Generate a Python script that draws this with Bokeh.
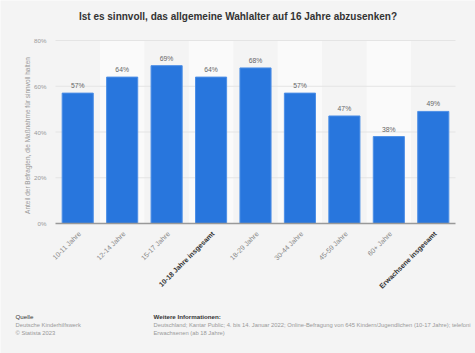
from bokeh.plotting import figure
from bokeh.models import ColumnDataSource, Range1d
from bokeh.core.properties import value
from bokeh.embed import file_html
from bokeh.resources import INLINE
import math

categories = ["10-11 Jahre", "12-14 Jahre", "15-17 Jahre", "10-18 Jahre insgesamt",
              "18-29 Jahre", "30-44 Jahre", "45-59 Jahre", "60+ Jahre", "Erwachsene insgesamt"]
values = [57, 64, 69, 64, 68, 57, 47, 38, 49]
bold_flags = [False, False, False, True, False, False, False, False, True]
y_ticks = [0, 20, 40, 60, 80]
y_tick_labels = ["0%", "20%", "40%", "60%", "80%"]

title_text = "Ist es sinnvoll, das allgemeine Wahlalter auf 16 Jahre abzusenken?"
y_label = "Anteil der Befragten, die Maßnahme für sinnvoll halten"
source_title = "Quelle"
source_lines = ["Deutsche Kinderhilfswerk", "© Statista 2023"]
info_title = "Weitere Informationen:"
info_lines = ["Deutschland; Kantar Public; 4. bis 14. Januar 2022; Online-Befragung von 645 Kindern/Jugendlichen (10-17 Jahre); telefoni",
              "Erwachsenen (ab 18 Jahre)"]

FONT = "Liberation Sans"
BG = "#f4f4f4"
W, H = 475, 353
# plot area in page pixels
LEFT, RIGHT, TOP, BOTTOM = 55, 455, 40, 223
YMAX = 80
n = len(categories)
cw = (RIGHT - LEFT) / n           # pixels per category
k = (BOTTOM - TOP) / YMAX          # pixels per percent

x_range = Range1d(-0.5 - LEFT / cw, -0.5 + (W - LEFT) / cw)
y_range = Range1d(-(H - BOTTOM) / k, YMAX + TOP / k)

def px_x(px):
    return -0.5 + (px - LEFT) / cw

def px_y(py):
    return (BOTTOM - py) / k

p = figure(width=W, height=H, output_backend="svg", toolbar_location=None,
           x_range=x_range, y_range=y_range, min_border=0)
p.background_fill_color = BG
p.border_fill_color = BG
p.outline_line_color = None
p.axis.visible = False
p.grid.visible = False

idx = list(range(n))

# alternating column bands
odd = [i for i in idx if i % 2 == 1]
p.vbar(x=odd, top=[YMAX] * len(odd), bottom=0, width=1.0, fill_color="#fafafa", line_color=None)

# grid lines
gt = [t for t in y_ticks if t > 0]
p.segment(x0=[-0.5] * len(gt), x1=[n - 0.5] * len(gt), y0=gt, y1=gt, line_color="#e4e4e4", line_width=1)

src = ColumnDataSource(dict(
    x=idx, top=values, cat=categories,
    lbl=[f"{v}%" for v in values],
    style=["bold" if b else "normal" for b in bold_flags],
    color=["#333333" if b else "#888888" for b in bold_flags],
))
p.vbar(x="x", top="top", width=0.7, source=src, fill_color="#2876dd", line_color="#4d8fe6", line_width=1)

# baseline
p.segment(x0=[-0.5], x1=[n - 0.5], y0=[0], y1=[0], line_color="#999999", line_width=1.5)

# value labels
p.text(x="x", y="top", text="lbl", source=src, y_offset=-4, text_align="center",
       text_baseline="bottom", text_font=value(FONT), text_font_size="6.8px", text_color="#666666")

# category labels
p.text(x="x", y=0, text="cat", source=src, y_offset=9, x_offset=2, angle=math.pi / 4,
       text_align="right", text_baseline="middle", text_font=value(FONT), text_font_size="7px",
       text_color="color", text_font_style="style")

# y tick labels
p.text(x=[px_x(LEFT - 9)] * len(y_ticks), y=y_ticks, text=y_tick_labels, text_align="right",
       text_baseline="middle", text_font=value(FONT), text_font_size="6.2px", text_color="#999999")

# y axis label
p.text(x=[px_x(27)], y=[px_y(135)], text=[y_label], angle=math.pi / 2,
       text_align="center", text_baseline="middle", text_font=value(FONT), text_font_size="6.5px",
       text_color="#999999")

# title
p.text(x=[px_x(W / 2)], y=[px_y(16)], text=[title_text], text_align="center", text_baseline="middle",
       text_font=value(FONT), text_font_size="10px", text_font_style="bold", text_color="#333333")

# footer
p.text(x=[px_x(15)], y=[px_y(316)], text=[source_title], text_baseline="middle",
       text_font=value(FONT), text_font_size="6.2px", text_color="#333333")
p.text(x=[px_x(15)] * 2, y=[px_y(324), px_y(332)], text=source_lines, text_baseline="middle",
       text_font=value(FONT), text_font_size="5.8px", text_color="#999999")
p.text(x=[px_x(153)], y=[px_y(316)], text=[info_title], text_baseline="middle",
       text_font=value(FONT), text_font_size="6.2px", text_font_style="bold", text_color="#333333")
p.text(x=[px_x(153)] * 2, y=[px_y(324), px_y(332)], text=info_lines, text_baseline="middle",
       text_font=value(FONT), text_font_size="5.8px", text_color="#999999")

open("out.html", "w").write(file_html(p, INLINE))
